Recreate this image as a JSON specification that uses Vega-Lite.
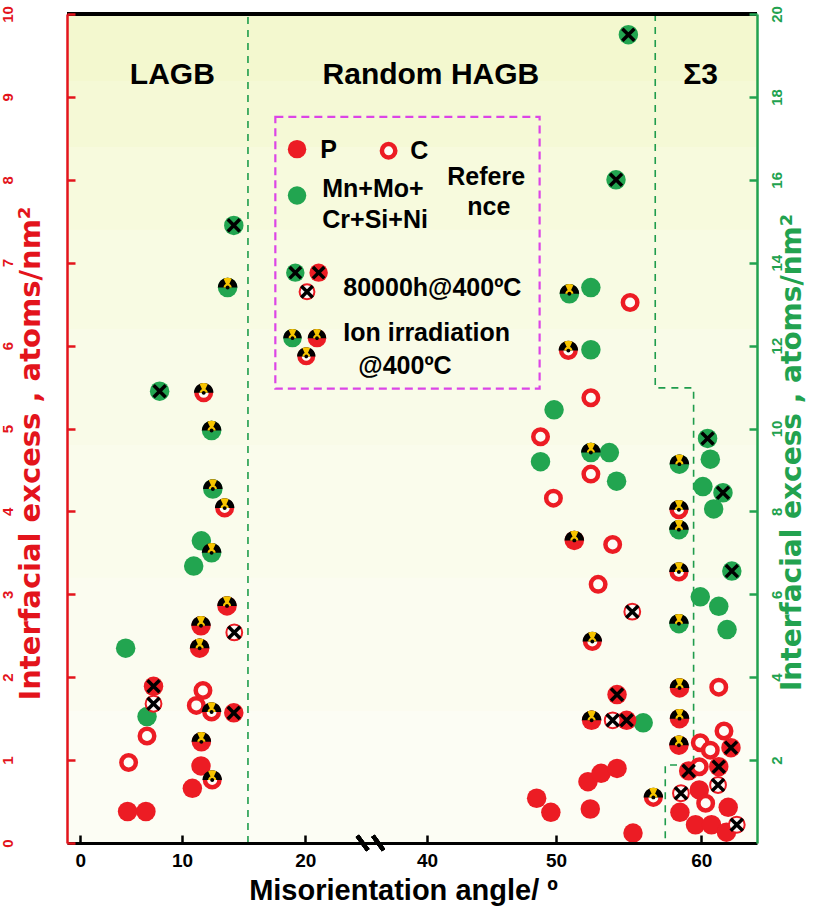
{
  "$schema": "https://vega.github.io/schema/vega-lite/v6.json",
  "autosize": {"type": "none"},
  "padding": {"left": 67, "top": 14, "right": 56, "bottom": 66},
  "width": 690,
  "height": 829,
  "config": {"font": "Liberation Sans", "view": {"stroke": null, "fill": "#f9fbe8"}},
  "datasets": {
    "red": [
      {"s":"C","c":"ion","a":11.76,"v":5.43},
      {"s":"C","c":"ion","a":13.46,"v":4.04},
      {"s":"P","c":"ion","a":13.65,"v":2.86},
      {"s":"P","c":"ion","a":11.54,"v":2.62},
      {"s":"C","c":"80k","a":14.24,"v":2.54},
      {"s":"P","c":"ion","a":11.43,"v":2.35},
      {"s":"P","c":"80k","a":7.2,"v":1.89},
      {"s":"C","c":"80k","a":7.2,"v":1.68},
      {"s":"C","c":"ref","a":6.56,"v":1.29},
      {"s":"C","c":"ref","a":4.75,"v":0.97},
      {"s":"P","c":"ref","a":4.65,"v":0.38},
      {"s":"P","c":"ref","a":6.45,"v":0.38},
      {"s":"C","c":"ref","a":11.7,"v":1.84},
      {"s":"C","c":"ref","a":11.16,"v":1.66},
      {"s":"C","c":"ion","a":12.4,"v":1.58},
      {"s":"P","c":"80k","a":14.2,"v":1.57},
      {"s":"P","c":"ion","a":11.57,"v":1.22},
      {"s":"P","c":"ref","a":11.54,"v":0.93},
      {"s":"P","c":"ref","a":10.84,"v":0.66},
      {"s":"C","c":"ion","a":12.45,"v":0.76},
      {"s":"C","c":"ref","a":55.1,"v":6.52},
      {"s":"C","c":"ion","a":50.85,"v":5.94},
      {"s":"C","c":"ref","a":52.4,"v":5.37},
      {"s":"C","c":"ref","a":48.8,"v":4.9},
      {"s":"C","c":"ref","a":52.4,"v":4.45},
      {"s":"C","c":"ref","a":49.8,"v":4.16},
      {"s":"P","c":"ion","a":51.26,"v":3.65},
      {"s":"C","c":"ref","a":53.9,"v":3.6},
      {"s":"C","c":"ref","a":52.9,"v":3.12},
      {"s":"C","c":"80k","a":55.25,"v":2.79},
      {"s":"C","c":"ion","a":52.5,"v":2.43},
      {"s":"P","c":"80k","a":54.2,"v":1.79},
      {"s":"P","c":"ion","a":52.45,"v":1.48},
      {"s":"C","c":"80k","a":53.9,"v":1.48},
      {"s":"P","c":"80k","a":54.86,"v":1.48},
      {"s":"P","c":"ref","a":52.2,"v":0.74},
      {"s":"P","c":"ref","a":53.1,"v":0.84},
      {"s":"P","c":"ref","a":54.2,"v":0.9},
      {"s":"P","c":"ref","a":48.5,"v":0.54},
      {"s":"P","c":"ref","a":49.6,"v":0.37},
      {"s":"P","c":"ref","a":52.36,"v":0.41},
      {"s":"C","c":"ion","a":56.7,"v":0.55},
      {"s":"P","c":"ref","a":55.3,"v":0.12},
      {"s":"C","c":"ion","a":58.46,"v":4.02},
      {"s":"C","c":"ion","a":58.46,"v":3.27},
      {"s":"C","c":"ref","a":61.2,"v":1.88},
      {"s":"P","c":"ion","a":58.5,"v":1.87},
      {"s":"P","c":"ion","a":58.5,"v":1.5},
      {"s":"P","c":"ion","a":58.46,"v":1.18},
      {"s":"C","c":"ref","a":61.56,"v":1.35},
      {"s":"P","c":"80k","a":62.04,"v":1.15},
      {"s":"C","c":"ref","a":59.93,"v":1.21},
      {"s":"C","c":"ref","a":60.62,"v":1.12},
      {"s":"P","c":"80k","a":59.13,"v":0.87},
      {"s":"C","c":"ref","a":59.86,"v":0.92},
      {"s":"P","c":"80k","a":61.2,"v":0.92},
      {"s":"C","c":"80k","a":61.15,"v":0.7},
      {"s":"C","c":"80k","a":58.6,"v":0.6},
      {"s":"P","c":"ref","a":59.86,"v":0.64},
      {"s":"C","c":"ref","a":60.3,"v":0.48},
      {"s":"P","c":"ref","a":58.53,"v":0.37},
      {"s":"P","c":"ref","a":61.85,"v":0.43},
      {"s":"P","c":"ref","a":59.6,"v":0.22},
      {"s":"P","c":"ref","a":60.7,"v":0.22},
      {"s":"P","c":"ref","a":61.73,"v":0.13},
      {"s":"C","c":"80k","a":62.44,"v":0.22}
    ],
    "green": [
      {"s":"M","c":"80k","a":14.2,"v":14.9},
      {"s":"M","c":"ion","a":13.7,"v":13.4},
      {"s":"M","c":"80k","a":7.8,"v":10.9},
      {"s":"M","c":"ion","a":12.4,"v":9.95},
      {"s":"M","c":"ion","a":12.5,"v":8.54},
      {"s":"M","c":"ref","a":11.57,"v":7.29},
      {"s":"M","c":"ion","a":12.4,"v":7.0},
      {"s":"M","c":"ref","a":10.95,"v":6.68},
      {"s":"M","c":"ref","a":4.46,"v":4.7},
      {"s":"M","c":"ref","a":6.56,"v":3.05},
      {"s":"M","c":"80k","a":54.98,"v":19.5},
      {"s":"M","c":"80k","a":54.13,"v":16.0},
      {"s":"M","c":"ion","a":50.92,"v":13.25},
      {"s":"M","c":"ref","a":52.4,"v":13.4},
      {"s":"M","c":"ref","a":52.4,"v":11.9},
      {"s":"M","c":"ref","a":49.85,"v":10.45},
      {"s":"M","c":"ref","a":48.8,"v":9.2},
      {"s":"M","c":"ion","a":52.4,"v":9.42},
      {"s":"M","c":"ref","a":53.67,"v":9.42},
      {"s":"M","c":"ref","a":54.17,"v":8.73},
      {"s":"M","c":"ref","a":56.0,"v":2.9},
      {"s":"M","c":"80k","a":60.43,"v":9.76},
      {"s":"M","c":"ref","a":60.62,"v":9.26},
      {"s":"M","c":"ion","a":58.49,"v":9.14},
      {"s":"M","c":"ref","a":60.11,"v":8.6},
      {"s":"M","c":"80k","a":61.49,"v":8.45},
      {"s":"M","c":"ref","a":60.85,"v":8.06},
      {"s":"M","c":"ion","a":58.46,"v":7.56},
      {"s":"M","c":"80k","a":62.1,"v":6.56},
      {"s":"M","c":"ref","a":59.93,"v":5.94},
      {"s":"M","c":"ref","a":61.2,"v":5.71},
      {"s":"M","c":"ref","a":61.77,"v":5.15},
      {"s":"M","c":"ion","a":58.46,"v":5.29}
    ],
    "legendSymbols": [
      {"s":"P","c":"ref","a":19.33,"v":8.37},
      {"s":"C","c":"ref","a":33.69,"v":8.35},
      {"s":"M","c":"ref","a":19.33,"v":7.81},
      {"s":"M","c":"80k","a":19.19,"v":6.88},
      {"s":"P","c":"80k","a":22.19,"v":6.88},
      {"s":"C","c":"80k","a":20.28,"v":6.65},
      {"s":"M","c":"ion","a":18.96,"v":6.09},
      {"s":"P","c":"ion","a":21.92,"v":6.09},
      {"s":"C","c":"ion","a":20.16,"v":5.87}
    ],
    "legendBox": [{"a":17.57,"a2":48.73,"v":8.76,"v2":5.48}],
    "legendText": [
      {"t":"P","a":22.47,"v":8.36},
      {"t":"C","a":37.26,"v":8.35},
      {"t":"Mn+Mo+","a":22.79,"v":7.89},
      {"t":"Cr+Si+Ni","a":22.79,"v":7.52},
      {"t":"Refere","a":41.57,"v":8.03},
      {"t":"nce","a":43.12,"v":7.67},
      {"t":"80000h@400ºC","a":26.24,"v":6.70},
      {"t":"Ion irradiation","a":26.24,"v":6.15},
      {"t":"@400ºC","a":28.71,"v":5.75}
    ],
    "regions": [
      {"t":"LAGB","a":9.05,"v":9.26},
      {"t":"Random HAGB","a":40.3,"v":9.26},
      {"t":"Σ3","a":59.95,"v":9.26}
    ],
    "bounds": [
      {"seg":"LAGB","o":1,"a":15.35,"v":0},
      {"seg":"LAGB","o":2,"a":15.35,"v":10},
      {"seg":"S3","o":1,"a":56.83,"v":10},
      {"seg":"S3","o":2,"a":56.83,"v":5.49},
      {"seg":"S3","o":3,"a":59.47,"v":5.49},
      {"seg":"S3","o":4,"a":59.47,"v":0.94},
      {"seg":"S3","o":5,"a":57.52,"v":0.94},
      {"seg":"S3","o":6,"a":57.52,"v":0}
    ]
  },
  "encoding": {
    "x": {
      "field": "a", "type": "quantitative",
      "scale": {"domain": [-1.31, 0, 10, 20, 40, 50, 60, 63.83], "range": [0, 13.3, 115, 238.3, 360, 489, 634.3, 690], "nice": false, "zero": false},
      "axis": {
        "values": [0, 10, 20, 40, 50, 60], "grid": false, "zindex": 1,
        "domainColor": "black", "domainWidth": 3,
        "tickColor": "black", "tickWidth": 2.5, "tickSize": -8,
        "labelFontSize": 19, "labelFontWeight": "bold", "labelColor": "black", "labelPadding": 16, "labelFlush": false, "labelOverlap": false,
        "title": "Misorientation angle/ º", "titleFontSize": 29, "titleFontWeight": "bold", "titleColor": "black",
        "titleX": 336, "titleY": 56, "titleAlign": "center", "titleBaseline": "alphabetic"
      }
    }
  },
  "layer": [
    {
      "data": {"name": "bounds"},
      "encoding": {"y": {"field": "v", "type": "quantitative", "scale": {"domain": [0, 10], "nice": false}, "axis": null}},
      "layer": [
        {"mark": {"type": "rect", "fill": "#fcfdf4", "strokeWidth": 0},
         "encoding": {"x": {"datum": -1.31, "type": "quantitative"}, "x2": {"datum": 63.83}, "y": {"datum": 1.6, "type": "quantitative"}, "y2": {"datum": 0}}},
        {"mark": {"type": "rect", "fill": "#fbfcf0", "strokeWidth": 0},
         "encoding": {"x": {"datum": -1.31, "type": "quantitative"}, "x2": {"datum": 63.83}, "y": {"datum": 3.2, "type": "quantitative"}, "y2": {"datum": 1.6}}},
        {"mark": {"type": "rect", "fill": "#fafcec", "strokeWidth": 0},
         "encoding": {"x": {"datum": -1.31, "type": "quantitative"}, "x2": {"datum": 63.83}, "y": {"datum": 4.8, "type": "quantitative"}, "y2": {"datum": 3.2}}},
        {"mark": {"type": "rect", "fill": "#f8fbe3", "strokeWidth": 0},
         "encoding": {"x": {"datum": -1.31, "type": "quantitative"}, "x2": {"datum": 63.83}, "y": {"datum": 7.4, "type": "quantitative"}, "y2": {"datum": 6.2}}},
        {"mark": {"type": "rect", "fill": "#f7fadd", "strokeWidth": 0},
         "encoding": {"x": {"datum": -1.31, "type": "quantitative"}, "x2": {"datum": 63.83}, "y": {"datum": 8.4, "type": "quantitative"}, "y2": {"datum": 7.4}}},
        {"mark": {"type": "rect", "fill": "#f5f9d6", "strokeWidth": 0},
         "encoding": {"x": {"datum": -1.31, "type": "quantitative"}, "x2": {"datum": 63.83}, "y": {"datum": 9.2, "type": "quantitative"}, "y2": {"datum": 8.4}}},
        {"mark": {"type": "rect", "fill": "#f3f8cf", "strokeWidth": 0},
         "encoding": {"x": {"datum": -1.31, "type": "quantitative"}, "x2": {"datum": 63.83}, "y": {"datum": 10, "type": "quantitative"}, "y2": {"datum": 9.2}}},
        {
          "mark": {"type": "line", "color": "#1f9c4c", "strokeWidth": 1.6, "strokeDash": [7, 6]},
          "encoding": {"detail": {"field": "seg"}, "order": {"field": "o", "type": "quantitative"}}
        },
        {
          "mark": {"type": "rule", "color": "black", "strokeWidth": 3},
          "encoding": {"x": {"datum": -1.31, "type": "quantitative"}, "x2": {"datum": 63.83}, "y": {"datum": 10, "type": "quantitative"}}
        },
        {
          "mark": {"type": "point", "shape": "M-1,-0.55L-0.2,0.55M0.2,-0.55L1,0.55", "filled": false, "stroke": "black", "strokeWidth": 4, "size": 680, "opacity": 1},
          "encoding": {"x": {"datum": 30.7, "type": "quantitative"}, "y": {"datum": 0, "type": "quantitative"}}
        }
      ]
    },
    {
      "data": {"name": "green"},
      "encoding": {"y": {"field": "v", "type": "quantitative", "scale": {"domain": [0, 20], "nice": false},
        "axis": {"orient": "right", "values": [2, 4, 6, 8, 10, 12, 14, 16, 18, 20], "grid": false, "zindex": 1,
          "domainColor": "#22a24f", "domainWidth": 2.5, "tickColor": "#22a24f", "tickWidth": 2.5, "tickSize": -8,
          "labelAngle": -90, "labelAlign": "center", "labelBaseline": "top", "labelColor": "#22a24f", "labelFontSize": 15, "labelFontWeight": "bold", "labelPadding": 20, "labelOverlap": false, "labelFlush": false,
          "title": "Interfacial excess , atoms/nm²", "titleColor": "#22a24f", "titleFont": "DejaVu Sans", "titleFontSize": 28, "titleFontWeight": "bold",
          "titleAngle": -90, "titleX": 35, "titleY": 438, "titleAlign": "center", "titleBaseline": "middle"}}},
      "layer": [
        {"mark": {"type": "point", "shape": "circle", "filled": true, "size": 380, "opacity": 1, "strokeWidth": 0},
         "encoding": {"color": {"field": "s", "type": "nominal", "scale": {"domain": ["P", "M", "C"], "range": ["#ec1c24", "#22a550", "#ec1c24"]}, "legend": null}}},
        {"transform": [{"filter": "datum.c == '80k'"}],
         "mark": {"type": "point", "shape": "M-0.62,-0.62L0.62,0.62M-0.62,0.62L0.62,-0.62", "filled": false, "stroke": "black", "strokeWidth": 3.5, "size": 380, "opacity": 1}},
        {"transform": [{"filter": "datum.c == 'ion'"}],
         "mark": {"type": "point", "shape": "M-1,0A1,1,0,0,1,1,0Z", "filled": true, "color": "black", "size": 380, "opacity": 1, "strokeWidth": 0}},
        {"transform": [{"filter": "datum.c == 'ion'"}],
         "mark": {"type": "point", "shape": "M0,0L-0.42,-0.91A1,1,0,0,1,0.42,-0.91Z M-0.42,0A0.42,0.42,0,0,1,0.42,0Z", "filled": true, "color": "#f7c400", "size": 380, "opacity": 1, "strokeWidth": 0}},
        {"transform": [{"filter": "datum.c == 'ion'"}],
         "mark": {"type": "point", "shape": "M-0.2,0A0.2,0.2,0,1,1,0.2,0A0.2,0.2,0,1,1,-0.2,0Z", "filled": true, "color": "black", "size": 380, "opacity": 1, "strokeWidth": 0}}
      ]
    },
    {
      "data": {"name": "red"},
      "encoding": {"y": {"field": "v", "type": "quantitative", "scale": {"domain": [0, 10], "nice": false},
        "axis": {"orient": "left", "values": [0, 1, 2, 3, 4, 5, 6, 7, 8, 9, 10], "grid": false, "zindex": 1,
          "domainColor": "#e3141c", "domainWidth": 2.5, "tickColor": "#e3141c", "tickWidth": 2.5, "tickSize": -8,
          "labelAngle": -90, "labelAlign": "center", "labelBaseline": "bottom", "labelColor": "#e3141c", "labelFontSize": 15, "labelFontWeight": "bold", "labelPadding": 60, "labelOverlap": false, "labelFlush": false,
          "title": "Interfacial excess , atoms/nm²", "titleColor": "#e3141c", "titleFont": "DejaVu Sans", "titleFontSize": 29, "titleFontWeight": "bold",
          "titleAngle": -90, "titleX": -37, "titleY": 439, "titleAlign": "center", "titleBaseline": "middle"}}},
      "layer": [
        {"transform": [{"filter": "datum.s != 'C'"}],
         "mark": {"type": "point", "shape": "circle", "filled": true, "size": 380, "opacity": 1, "strokeWidth": 0},
         "encoding": {"color": {"field": "s", "type": "nominal", "scale": {"domain": ["P", "M", "C"], "range": ["#ec1c24", "#22a550", "#ec1c24"]}, "legend": null}}},
        {"transform": [{"filter": "datum.s == 'C' && datum.c != '80k'"}],
         "mark": {"type": "point", "shape": "circle", "filled": false, "fill": "#fdfdf6", "stroke": "#ec1c24", "strokeWidth": 4.5, "size": 210, "opacity": 1}},
        {"transform": [{"filter": "datum.s == 'C' && datum.c == '80k'"}],
         "mark": {"type": "point", "shape": "circle", "filled": false, "fill": "#fdf6f4", "stroke": "#ec1c24", "strokeWidth": 2, "size": 250, "opacity": 1}},
        {"transform": [{"filter": "datum.c == '80k'"}],
         "mark": {"type": "point", "shape": "M-0.62,-0.62L0.62,0.62M-0.62,0.62L0.62,-0.62", "filled": false, "stroke": "black", "strokeWidth": 3.5, "size": 380, "opacity": 1}},
        {"transform": [{"filter": "datum.c == 'ion'"}],
         "mark": {"type": "point", "shape": "M-1,0A1,1,0,0,1,1,0Z", "filled": true, "color": "black", "size": 380, "opacity": 1, "strokeWidth": 0}},
        {"transform": [{"filter": "datum.c == 'ion'"}],
         "mark": {"type": "point", "shape": "M0,0L-0.42,-0.91A1,1,0,0,1,0.42,-0.91Z M-0.42,0A0.42,0.42,0,0,1,0.42,0Z", "filled": true, "color": "#f7c400", "size": 380, "opacity": 1, "strokeWidth": 0}},
        {"transform": [{"filter": "datum.c == 'ion'"}],
         "mark": {"type": "point", "shape": "M-0.2,0A0.2,0.2,0,1,1,0.2,0A0.2,0.2,0,1,1,-0.2,0Z", "filled": true, "color": "black", "size": 380, "opacity": 1, "strokeWidth": 0}}
      ]
    },
    {
      "encoding": {"y": {"field": "v", "type": "quantitative", "scale": {"domain": [0, 10], "nice": false}, "axis": null}},
      "layer": [
        {"data": {"name": "legendBox"},
         "mark": {"type": "rect", "fill": null, "fillOpacity": 0, "stroke": "#dc45e6", "strokeWidth": 2.2, "strokeDash": [8, 5]},
         "encoding": {"x2": {"field": "a2"}, "y2": {"field": "v2"}}},
        {"data": {"name": "legendSymbols"},
         "layer": [
          {"transform": [{"filter": "datum.s != 'C'"}],
           "mark": {"type": "point", "shape": "circle", "filled": true, "size": 340, "opacity": 1, "strokeWidth": 0},
           "encoding": {"color": {"field": "s", "type": "nominal", "scale": {"domain": ["P", "M", "C"], "range": ["#ec1c24", "#22a550", "#ec1c24"]}, "legend": null}}},
          {"transform": [{"filter": "datum.s == 'C' && datum.c != '80k'"}],
           "mark": {"type": "point", "shape": "circle", "filled": false, "fill": "#fdfdf6", "stroke": "#ec1c24", "strokeWidth": 4.5, "size": 180, "opacity": 1}},
          {"transform": [{"filter": "datum.s == 'C' && datum.c == '80k'"}],
           "mark": {"type": "point", "shape": "circle", "filled": false, "fill": "#fdf6f4", "stroke": "#ec1c24", "strokeWidth": 2, "size": 220, "opacity": 1}},
          {"transform": [{"filter": "datum.c == '80k'"}],
           "mark": {"type": "point", "shape": "M-0.62,-0.62L0.62,0.62M-0.62,0.62L0.62,-0.62", "filled": false, "stroke": "black", "strokeWidth": 3.5, "size": 340, "opacity": 1}},
          {"transform": [{"filter": "datum.c == 'ion'"}],
           "mark": {"type": "point", "shape": "M-1,0A1,1,0,0,1,1,0Z", "filled": true, "color": "black", "size": 340, "opacity": 1, "strokeWidth": 0}},
          {"transform": [{"filter": "datum.c == 'ion'"}],
           "mark": {"type": "point", "shape": "M0,0L-0.42,-0.91A1,1,0,0,1,0.42,-0.91Z M-0.42,0A0.42,0.42,0,0,1,0.42,0Z", "filled": true, "color": "#f7c400", "size": 340, "opacity": 1, "strokeWidth": 0}},
          {"transform": [{"filter": "datum.c == 'ion'"}],
           "mark": {"type": "point", "shape": "M-0.2,0A0.2,0.2,0,1,1,0.2,0A0.2,0.2,0,1,1,-0.2,0Z", "filled": true, "color": "black", "size": 340, "opacity": 1, "strokeWidth": 0}}
         ]},
        {"data": {"name": "legendText"},
         "mark": {"type": "text", "align": "left", "baseline": "middle", "fontSize": 25, "fontWeight": "bold", "color": "black"},
         "encoding": {"text": {"field": "t"}}},
        {"data": {"name": "regions"},
         "mark": {"type": "text", "align": "center", "baseline": "middle", "fontSize": 30, "fontWeight": "bold", "color": "black"},
         "encoding": {"text": {"field": "t"}}}
      ]
    }
  ],
  "resolve": {"scale": {"y": "independent"}}
}
